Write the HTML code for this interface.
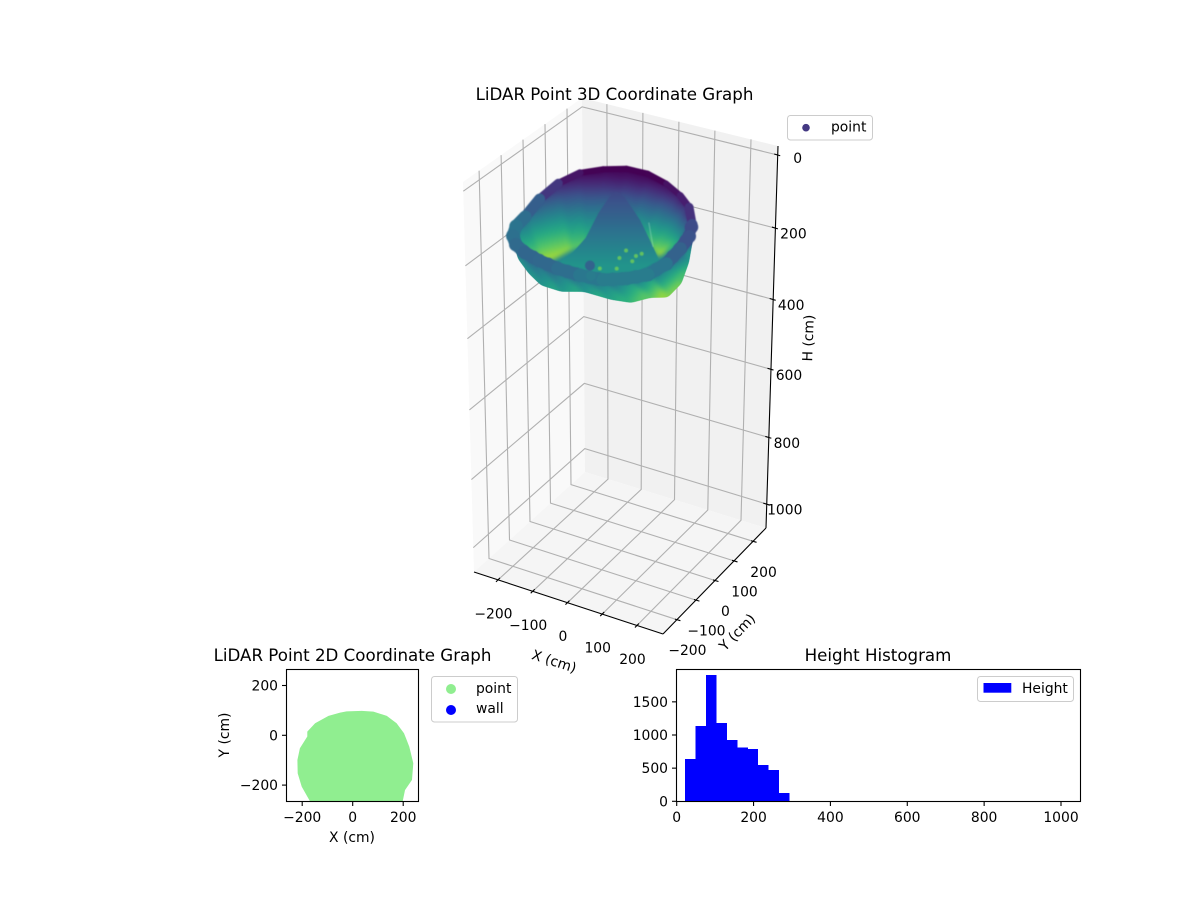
<!DOCTYPE html>
<html>
<head>
<meta charset="utf-8">
<title>LiDAR Point Graphs</title>
<style>
html,body{margin:0;padding:0;background:#fff;}
svg{display:block;}
text{font-family:"DejaVu Sans","Liberation Sans",sans-serif;font-size:13.89px;fill:#000;}
.title{font-size:16.67px;text-anchor:middle;}
</style>
</head>
<body>
<svg id="fig" xmlns="http://www.w3.org/2000/svg" width="1200" height="900" viewBox="0 0 1200 900">
<defs>
<filter id="soft" x="-5%" y="-5%" width="110%" height="110%" color-interpolation-filters="sRGB"><feGaussianBlur stdDeviation="0.6"/></filter>
<filter id="softer" x="-5%" y="-5%" width="110%" height="110%" color-interpolation-filters="sRGB">
<feGaussianBlur stdDeviation="2.4"/>
<feComponentTransfer><feFuncA type="linear" slope="7" intercept="-3"/></feComponentTransfer>
</filter>
<clipPath id="clip2d"><rect x="286" y="669" width="132" height="132"/></clipPath>
</defs>
<g id="axes3d"></g>
<text class="title" x="614.5" y="100">LiDAR Point 3D Coordinate Graph</text>
<g>
<rect x="787.5" y="115.5" width="85" height="24.5" rx="3" fill="#fff" stroke="#ccc"/>
<circle cx="806" cy="127.7" r="3.8" fill="#443983"/>
<text x="831" y="131.5">point</text>
</g>
<text x="554" y="666" text-anchor="middle" transform="rotate(18 554 662)">X (cm)</text>
<text x="737" y="637" text-anchor="middle" transform="rotate(-46 737 632)">Y (cm)</text>
<text x="808" y="343" text-anchor="middle" transform="rotate(-88 808 338)">H (cm)</text>

<g id="axes2d"></g>
<text class="title" x="352.5" y="661">LiDAR Point 2D Coordinate Graph</text>
<text x="352" y="842" text-anchor="middle">X (cm)</text>
<text x="229" y="735" text-anchor="middle" transform="rotate(-90 229 735)">Y (cm)</text>
<g>
<rect x="431.5" y="676.5" width="86" height="45.5" rx="3" fill="#fff" stroke="#ccc"/>
<circle cx="451" cy="689" r="5" fill="#90ee90"/>
<text x="476" y="693">point</text>
<circle cx="451" cy="710" r="5" fill="#0000ff"/>
<text x="476" y="713">wall</text>
</g>

<g id="axesHist"></g>
<text class="title" x="878" y="661">Height Histogram</text>
<g>
<rect x="977.5" y="676.5" width="96" height="25" rx="3" fill="#fff" stroke="#ccc"/>
<rect x="983.5" y="683" width="27.8" height="9.7" fill="#0000ff"/>
<text x="1022" y="693">Height</text>
</g>
</svg>
<script>
// ---------- 3D chart data (cm) ----------
const xTicks3d = [-200, -100, 0, 100, 200];
const yTicks3d = [-200, -100, 0, 100, 200];
const zTicks3d = [0, 200, 400, 600, 800, 1000];
const rimAzimuths = [0,15,30,45,60,75,90,105,120,135,150,165,180,195,210,225,240,255,270,285,300,315,330,345];
const rimRadii = [212,212,212,212,212,212,212,212,212,212,212,212,212,212,212,212,212,212,212,212,212,212,212,212];
const rimHeights = [90,84,80,62,56,46,36,33,38,44,62,88,114,114,113,108,103,102,106,112,120,120,120,108];
const troughX = [206,199,92,80,71,52,18,-8,-38,-65,-102,-131,-137,-150,-146,-73,-23,29,75,145,184,182,208,220];
const troughY = [-38,-8,54,38,31,17,5,-21,-39,-63,-69,-89,-142,-185,-234,-311,-341,-337,-310,-304,-277,-181,-142,-99];
const troughHeights = [170,125,215,222,205,190,180,175,175,185,205,225,215,200,165,150,155,160,160,165,175,205,215,195];
const pileX = [-50,-33,-26,-41,-47,-42,-22,49,105,143,112,30];
const pileY = [-217,-172,-119,-33,32,47,45,-2,-51,-79,-201,-248];
const pileHeights = [165,150,130,105,88,85,90,115,135,160,165,165];
const speckX = [38,3,9,44,-4,31,44];
const speckY = [3,16,-26,20,-97,-77,-25];
const speckHeights = [215,215,215,215,215,215,215];
const bumpX = [75,84];
const bumpY = [-281,-292];
const bumpHeights = [105,125];
const streakX = [39,112];
const streakY = [62,-44];
const streakHeights = [150,150];

// ---------- 2D chart data (cm) ----------
const xTicks2d = [-200, 0, 200];
const yTicks2d = [-200, 0, 200];
const footprintX = [-24,36,82,135,174,203,211,224,240,235,207,198,190,-140,-169,-202,-218,-219,-209,-180,-180,-149,-96,-50];
const footprintY = [96,98,95,78,48,8,-12,-46,-112,-179,-220,-265,-320,-320,-265,-206,-153,-99,-52,-5,15,48,78,91];

// ---------- Histogram data ----------
const histEdges = [22,49,76,103,130,157,184,211,238,265,292];
const histCounts = [638,1136,1905,1181,925,809,789,548,472,126];
const histXTicks = [0,200,400,600,800,1000];
const histYTicks = [0,500,1000,1500];

const NS = 'http://www.w3.org/2000/svg';
function mk(parent, tag, attrs, txt){
  const el = document.createElementNS(NS, tag);
  for (const k in attrs) el.setAttribute(k, attrs[k]);
  if (txt !== undefined) el.textContent = txt;
  parent.appendChild(el);
  return el;
}
function label(v){ return String(v).replace('-', '\u2212'); }

// ---------- viridis ----------
const viridisStops = ['#440154','#482878','#3b528b','#2c728e','#21918c','#28ae80','#5ec962','#addc30','#fde725'];
function viridis(c){
  c = Math.max(0, Math.min(1, c)) * 8;
  const i = Math.min(7, Math.floor(c)), f = c - i;
  const a = viridisStops[i], b = viridisStops[i + 1];
  const ch = s => [1, 3, 5].map(p => parseInt(s.substr(p, 2), 16));
  const A = ch(a), B = ch(b);
  return 'rgb(' + A.map((v, n) => Math.round(v + (B[n] - v) * f)).join(',') + ')';
}
function heightColor(h){ return viridis((h - 40) / 205); }

// ---------- 3D projection ----------
const xMin = -269, xMax = 275, yMin = -273, yMax = 268;
const cornerA = {t:[463,182], b:[474,572]};
const cornerB = {t:[582,98],  b:[585,472]};
const cornerC = {t:[778,146], b:[766,528]};
const cornerD = {t:[666,234], b:[663,634]};
function lerp(a, b, t){ return a + (b - a) * t; }
function corner(u, v, w){
  const out = [];
  for (let n = 0; n < 2; n++){
    const top = lerp(lerp(cornerA.t[n], cornerD.t[n], u), lerp(cornerB.t[n], cornerC.t[n], u), v);
    const bot = lerp(lerp(cornerA.b[n], cornerD.b[n], u), lerp(cornerB.b[n], cornerC.b[n], u), v);
    out.push(lerp(top, bot, w));
  }
  return out;
}
function uOf(x){ return (x - xMin) / (xMax - xMin); }
function vOf(y){ return (y - yMin) / (yMax - yMin); }
function wOf(h){ const z = h / 1000; return 0.0235 + 0.914 * z / (0.056 * z + 0.944); }
function project(x, y, h){ return corner(uOf(x), vOf(y), wOf(h)); }
function pts(list){ return list.map(p => p[0].toFixed(1) + ',' + p[1].toFixed(1)).join(' '); }

const g3 = document.getElementById('axes3d');
const leftPane = mk(g3, 'polygon', {points: pts([corner(0,0,0),corner(0,1,0),corner(0,1,1),corner(0,0,1)]), fill:'#f9f9f9'});


const backPane = mk(g3, 'polygon', {points: pts([corner(0,1,0),corner(1,1,0),corner(1,1,1),corner(0,1,1)]), fill:'#f1f1f1'});


const floorPane = mk(g3, 'polygon', {points: pts([corner(0,0,1),corner(1,0,1),corner(1,1,1),corner(0,1,1)]), fill:'#f5f5f5'});



function gridPath(parent, list, name){
  const el = mk(parent, 'polyline', {points: pts(list), fill:'none', stroke:'#b0b0b0', 'stroke-width':1.1});
  
  
}
xTicks3d.forEach(t => {
  const u = uOf(t);
  gridPath(g3, [corner(u,0,1), corner(u,1,1), corner(u,1,0)], 'x-gridline');
});
yTicks3d.forEach(t => {
  const v = vOf(t);
  gridPath(g3, [corner(1,v,1), corner(0,v,1), corner(0,v,0)], 'y-gridline');
});
zTicks3d.forEach(t => {
  const w = wOf(t);
  gridPath(g3, [corner(0,0,w), corner(0,1,w), corner(1,1,w)], 'z-gridline');
});

// point cloud
const cloud = mk(g3, 'g', {});


const cloudBack = mk(cloud, 'g', {filter:'url(#softer)'});


const cloudPile = mk(cloud, 'g', {filter:'url(#soft)'});


const cloudFront = mk(cloud, 'g', {filter:'url(#softer)'});


const cloudRim = mk(cloud, 'g', {filter:'url(#soft)'});


const defs = document.querySelector('defs');
let gradId = 0;
function heightGradient(p1, h1, p2, h2, curve){
  const id = 'hg' + (gradId++);
  const grad = mk(defs, 'linearGradient', {id:id, gradientUnits:'userSpaceOnUse', x1:p1[0], y1:p1[1], x2:p2[0], y2:p2[1]});
  for (let s = 0; s <= 8; s++){
    mk(grad, 'stop', {offset: s / 8, 'stop-color': heightColor(lerp(h1, h2, Math.pow(s / 8, curve)))});
  }
  return 'url(#' + id + ')';
}
const rimCentreX = 18, rimCentreY = -120;
const rimData = rimAzimuths.map((az, i) => {
  const a = az * Math.PI / 180;
  return [rimCentreX + rimRadii[i] * Math.cos(a), rimCentreY + rimRadii[i] * Math.sin(a), rimHeights[i]];
});
const rimPx = rimData.map(d => project(d[0], d[1], d[2]));
const troughPx = troughX.map((x, i) => project(x, troughY[i], troughHeights[i]));
function rimKey(i){ return 0.5 * (rimData[i][0] - rimCentreX) - 0.866 * (rimData[i][1] - rimCentreY); }
function drawWall(i, parent, curve){
  const j = (i + 1) % rimPx.length;
  const rimMid = [(rimPx[i][0] + rimPx[j][0]) / 2, (rimPx[i][1] + rimPx[j][1]) / 2];
  const troughMid = [(troughPx[i][0] + troughPx[j][0]) / 2, (troughPx[i][1] + troughPx[j][1]) / 2];
  const hRim = (rimHeights[i] + rimHeights[j]) / 2;
  const hTrough = (troughHeights[i] + troughHeights[j]) / 2;
  const paint = heightGradient(rimMid, hRim, troughMid, hTrough, curve);
  const el = mk(parent, 'polygon', {points: pts([rimPx[i], rimPx[j], troughPx[j], troughPx[i]]), fill: paint, stroke: paint, 'stroke-width': 1.5, 'stroke-linejoin':'round'});
  
  
}
const order = rimAzimuths.map((a, i) => i).sort((p, q) => rimKey(p) - rimKey(q));
const isBack = i => rimAzimuths[i] >= 15 && rimAzimuths[i] < 195;
order.filter(isBack).forEach(i => drawWall(i, cloudBack, 0.95));

const floorEl = mk(cloudBack, 'polygon', {points: pts(troughPx), fill: heightColor(135)});



// material pile
const pilePx = pileX.map((x, i) => project(x, pileY[i], pileHeights[i]));
const minH = Math.min.apply(null, pileHeights), maxH = Math.max.apply(null, pileHeights);
const topIdx = pileHeights.indexOf(minH), botIdx = pileHeights.indexOf(maxH);
const pilePaint = heightGradient([pilePx[topIdx][0], pilePx[topIdx][1]], minH, [pilePx[topIdx][0], pilePx[botIdx][1]], maxH - 20, 1);
const pileEl = mk(cloudPile, 'polygon', {points: pts(pilePx), fill: pilePaint, stroke: pilePaint, 'stroke-width': 3, 'stroke-linejoin':'round'});



speckX.forEach((x, i) => {
  const p = project(x, speckY[i], speckHeights[i]);
  const el = mk(cloudPile, 'circle', {cx:p[0], cy:p[1], r:2, fill: heightColor(speckHeights[i] - 15), opacity:0.8});
  
  
});
const streakPx = streakX.map((x, i) => project(x, streakY[i], streakHeights[i]));
const streakEl = mk(cloudPile, 'polyline', {points: pts(streakPx), fill:'none', stroke:'#a8e0c8', 'stroke-width':1.4, opacity:0.35});



order.filter(i => !isBack(i)).forEach(i => drawWall(i, cloudFront, 1));

// rim points: a band that thins along the far side, with dotted markers on the near side
order.forEach(i => {
  const j = (i + 1) % rimPx.length;
  const mid = rimAzimuths[i] + 7.5;
  const near = mid < 25 || mid > 190;
  const paint = heightColor((rimHeights[i] + rimHeights[j]) / 2 + (near ? 5 : 0));
  const away = Math.min(1, Math.max(0, Math.abs(mid - 97) - 37) / 50);
  const seg = mk(cloudRim, 'line', {x1:rimPx[i][0], y1:rimPx[i][1], x2:rimPx[j][0], y2:rimPx[j][1],
    stroke: paint, 'stroke-width':6 + 6.5 * away, 'stroke-linecap':'round'});
  
  
  if (near){
    const dots = mk(cloudRim, 'line', {x1:rimPx[i][0], y1:rimPx[i][1], x2:rimPx[j][0], y2:rimPx[j][1],
      stroke: paint, 'stroke-width':13.5, 'stroke-linecap':'round', 'stroke-dasharray':'0 9.5'});
    
    
  }
});
bumpX.forEach((x, i) => {
  const p = project(x, bumpY[i], bumpHeights[i]);
  const el = mk(cloudRim, 'circle', {cx:p[0], cy:p[1], r:5, fill: heightColor(bumpHeights[i])});
  
  
});

// 3D axis lines
function axisLine(a, b, name){
  const el = mk(g3, 'line', {x1:a[0], y1:a[1], x2:b[0], y2:b[1], stroke:'#000', 'stroke-width':1.1});
  
  
}
axisLine(corner(0,0,1), corner(1,0,1), 'x-axis-line');
axisLine(corner(1,0,1), corner(1,1,1), 'y-axis-line');
axisLine(corner(1,1,0), corner(1,1,1), 'h-axis-line');

function tick3d(p, d1, d2, name){
  const el = mk(g3, 'line', {x1:p[0]+d1[0], y1:p[1]+d1[1], x2:p[0]+d2[0], y2:p[1]+d2[1], stroke:'#000', 'stroke-width':1.1});
  
  
}
function tickLabel3d(x, y, v, name){
  const el = mk(g3, 'text', {x:x, y:y + 5, 'text-anchor':'middle'}, label(v));
  
  
}
xTicks3d.forEach(t => {
  const p = corner(uOf(t), 0, 1);
  tick3d(p, [-2,2], [2,-2], 'x-tick');
  tickLabel3d(p[0] - 4.5, p[1] + 33.5, t, 'x-tick-label');
});
yTicks3d.forEach(t => {
  const p = corner(1, vOf(t), 1);
  tick3d(p, [3.5,1], [-2,-0.6], 'y-tick');
  tickLabel3d(p[0] + 10.5, p[1] + 30.5, t, 'y-tick-label');
});
zTicks3d.forEach(t => {
  const p = corner(1, 1, wOf(t));
  tick3d(p, [-3.5,-1], [2.5,0.8], 'h-tick');
  tickLabel3d(p[0] + (t === 0 ? 20 : 18), p[1] + (t === 0 ? 2.8 : 5.5), t, 'h-tick-label');
});

// ---------- 2D scatter ----------
const g2 = document.getElementById('axes2d');
function sx(x){ return 352.7 + x * 0.2525; }
function sy(y){ return 735.3 - y * 0.249; }
const fp = mk(g2, 'polygon', {points: pts(footprintX.map((x, i) => [sx(x), sy(footprintY[i])])), fill:'#90ee90', 'clip-path':'url(#clip2d)'});


const frame2 = mk(g2, 'rect', {x:286.5, y:669.5, width:132, height:132, fill:'none', stroke:'#000', 'stroke-width':1.1});


xTicks2d.forEach(t => {
  const tk = mk(g2, 'line', {x1:sx(t), y1:801.5, x2:sx(t), y2:806, stroke:'#000', 'stroke-width':1.1});
  
  
  const tl = mk(g2, 'text', {x:sx(t), y:822, 'text-anchor':'middle'}, label(t));
  
  
});
yTicks2d.forEach(t => {
  const tk = mk(g2, 'line', {x1:286.5, y1:sy(t), x2:282, y2:sy(t), stroke:'#000', 'stroke-width':1.1});
  
  
  const tl = mk(g2, 'text', {x:278, y:sy(t) + 5, 'text-anchor':'end'}, label(t));
  
  
});

// ---------- Histogram ----------
const gh = document.getElementById('axesHist');
function hx(v){ return 676.7 + v * 0.3843; }
function hy(c){ return 801.3 - c * 0.0663; }
histCounts.forEach((c, i) => {
  const bar = mk(gh, 'rect', {x:hx(histEdges[i]), y:hy(c), width:hx(histEdges[i+1]) - hx(histEdges[i]) + 0.4, height:hy(0) - hy(c), fill:'#0000ff', 'shape-rendering':'crispEdges'});
  
  
});
const frameH = mk(gh, 'rect', {x:676.5, y:669.5, width:404, height:132, fill:'none', stroke:'#000', 'stroke-width':1.1});


histXTicks.forEach(t => {
  const tk = mk(gh, 'line', {x1:hx(t), y1:801.5, x2:hx(t), y2:806, stroke:'#000', 'stroke-width':1.1});
  
  
  const tl = mk(gh, 'text', {x:hx(t), y:822, 'text-anchor':'middle'}, label(t));
  
  
});
histYTicks.forEach(t => {
  const tk = mk(gh, 'line', {x1:676.5, y1:hy(t), x2:672, y2:hy(t), stroke:'#000', 'stroke-width':1.1});
  
  
  const tl = mk(gh, 'text', {x:668, y:hy(t) + 5, 'text-anchor':'end'}, label(t));
  
  
});
</script>
</body>
</html>
